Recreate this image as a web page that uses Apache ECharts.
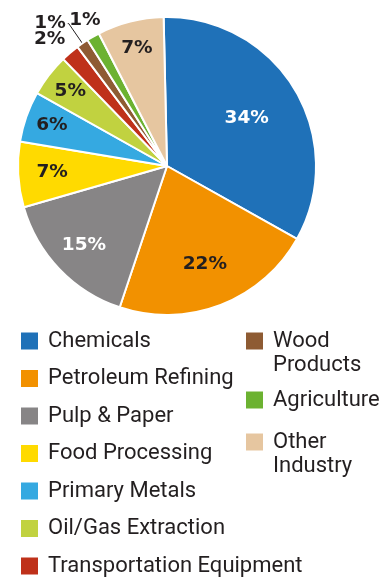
<!DOCTYPE html>
<html><head><meta charset="utf-8">
<script src="https://cdn.jsdelivr.net/npm/echarts@6/dist/echarts.min.js"></script>
<style>html,body{margin:0;padding:0;background:#fff}#c{width:391px;height:578px}</style>
</head><body><div id="c"></div>
<script>
// ---- data ----
const categories = ['Chemicals','Petroleum Refining','Pulp & Paper','Food Processing','Primary Metals','Oil/Gas Extraction','Transportation Equipment','Wood Products','Agriculture','Other Industry'];
const shares = [33.5, 22, 15.4, 7.1, 5.5, 4.6, 2, 1.3, 1.4, 7.2];
const colors = ['#1F71B8','#F29100','#878586','#FFDA00','#35A9E1','#C1D240','#BF311A','#8E5B33','#6CB231','#E6C6A0'];
const legendLeftNames = categories.slice(0, 7);
const legendRightNames = categories.slice(7);
const legendDisplay = {'Wood Products': '\nWood\nProducts', 'Other Industry': '\nOther\nIndustry'};

// ---- chart ----
const DARK = '#231F20';
const CX = 167, CY = 166, R = 149, START = 91.3;
const labelFont = {fontFamily: 'DejaVu Sans', fontWeight: 'bold', fontSize: 18.5};
const pct = p => Math.round(p.value) + '%';

const outsideCfg = {
  6: {label: {show: true, position: 'outside', distanceToLabelLine: 0}, labelLine: {show: false, length: 17.5, length2: -6.6}},
  7: {label: {show: true, position: 'outside', distanceToLabelLine: 2}, labelLine: {show: true, length: 24, length2: 1, lineStyle: {color: DARK, width: 1}}},
  8: {label: {show: true, position: 'outside', distanceToLabelLine: 0}, labelLine: {show: false, length: 19, length2: -17}}
};

const mainSeries = {
  type: 'pie', center: [CX, CY], radius: [0, R], startAngle: START, clockwise: true,
  avoidLabelOverlap: false, emphasis: {disabled: true},
  labelLayout: {hideOverlap: false},
  itemStyle: {borderColor: '#fff', borderWidth: 2},
  label: Object.assign({show: false, color: DARK, formatter: pct}, labelFont),
  labelLine: {show: false},
  data: categories.map((n, i) => Object.assign({name: n, value: shares[i], itemStyle: {color: colors[i]}}, outsideCfg[i] || {}))
};

function overlay(r0, showIdx) {
  return {
    type: 'pie', center: [CX, CY], radius: [r0, R], startAngle: START, clockwise: true,
    silent: true, avoidLabelOverlap: false, emphasis: {disabled: true}, tooltip: {show: false},
    labelLayout: {hideOverlap: false},
    itemStyle: {color: 'rgba(0,0,0,0)', borderWidth: 0},
    labelLine: {show: false},
    data: categories.map((n, i) => ({
      name: n, value: shares[i],
      itemStyle: {color: 'rgba(0,0,0,0)'},
      label: Object.assign({show: showIdx.indexOf(i) >= 0, position: 'inside', formatter: pct,
        color: (i === 0 || i === 2) ? '#ffffff' : DARK}, labelFont)
    }))
  };
}

function legendBox(names, left, top, lineHeight, gap) {
  return {
    orient: 'vertical', left: left, top: top, padding: 0,
    itemWidth: 17, itemHeight: 17, itemGap: gap, icon: 'rect', selectedMode: false,
    data: names,
    formatter: n => legendDisplay[n] || n,
    itemStyle: {borderWidth: 0},
    textStyle: {fontFamily: 'Roboto', fontSize: 22, lineHeight: lineHeight, color: DARK, padding: [0, 0, 0, 5]}
  };
}

const chart = echarts.init(document.getElementById('c'), null, {renderer: 'canvas'});
chart.setOption({
  animation: false,
  backgroundColor: '#ffffff',
  legend: [
    legendBox(legendLeftNames, 21, 330, 22, 15.5),
    legendBox([legendRightNames[0]], 246, 305, 24, 10),
    legendBox([legendRightNames[1]], 246, 388, 24, 10),
    legendBox([legendRightNames[2]], 246, 406, 24, 10)
  ],
  series: [
    mainSeries,
    overlay(31, [0]),
    overlay(55, [1]),
    overlay(75, [2, 3]),
    overlay(89, [4, 5, 9])
  ]
});
</script>
</body></html>
